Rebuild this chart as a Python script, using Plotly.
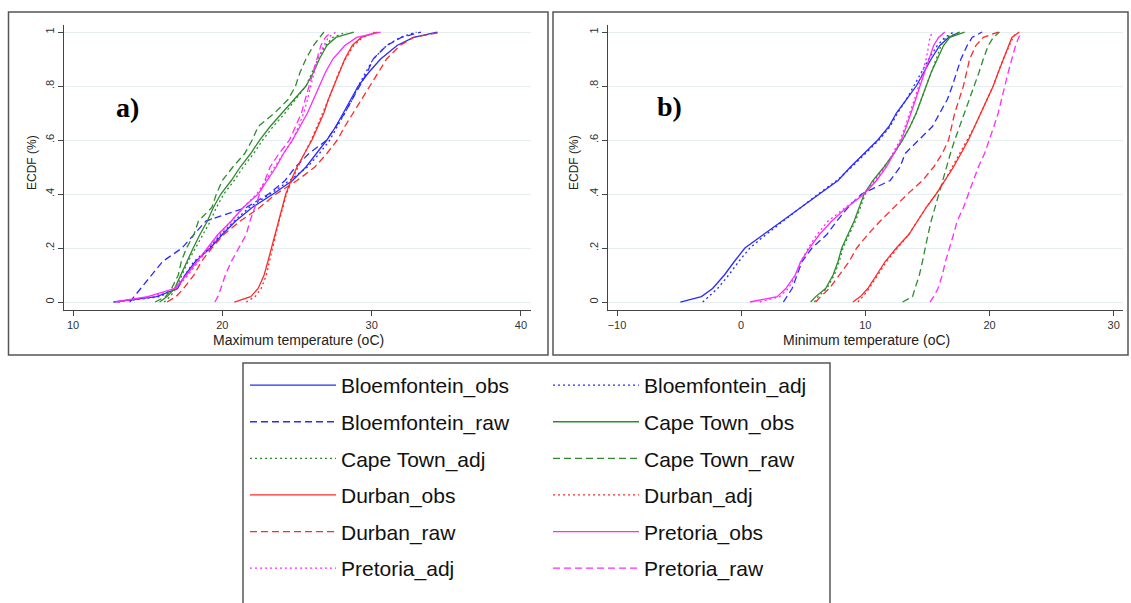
import plotly.graph_objects as go

# ---------------- data ----------------
ecdf_levels = [0, .02, .05, .1, .15, .2, .25, .3, .35, .4, .45, .5, .55, .6,
               .65, .7, .75, .8, .85, .9, .95, .98, 1.0]

series_names = ["Bloemfontein_obs", "Bloemfontein_adj", "Bloemfontein_raw",
                "Cape Town_obs", "Cape Town_adj", "Cape Town_raw",
                "Durban_obs", "Durban_adj", "Durban_raw",
                "Pretoria_obs", "Pretoria_adj", "Pretoria_raw"]

# a) maximum temperature quantiles (oC) at the ECDF levels
tmax_bloem_obs = [12.7, 15.6, 17.0, 17.5, 18.2, 19.2, 20.0, 20.9, 22.0, 23.4, 24.7, 25.6, 26.3, 27.0, 27.6, 28.1, 28.6, 29.1, 29.8, 30.6, 31.7, 32.8, 34.4]
tmax_bloem_adj = [13.0, 15.8, 17.0, 17.5, 18.1, 19.1, 19.9, 20.8, 21.8, 23.2, 24.5, 25.7, 26.5, 27.2, 27.7, 28.2, 28.7, 29.1, 29.6, 30.1, 31.0, 31.9, 33.0]
tmax_bloem_raw = [13.8, 14.1, 14.5, 15.3, 16.0, 17.3, 18.1, 18.9, 21.6, 23.1, 24.2, 24.9, 25.8, 27.0, 27.6, 28.2, 28.7, 29.2, 29.7, 30.1, 31.0, 32.0, 33.3]
tmax_ct_obs = [15.8, 16.3, 16.8, 17.2, 17.6, 18.05, 18.5, 19.0, 19.4, 19.9, 20.6, 21.2, 21.9, 22.5, 23.2, 24.0, 24.8, 25.6, 26.1, 26.5, 27.0, 27.6, 28.8]
tmax_ct_adj = [16.1, 16.5, 16.9, 17.3, 17.7, 18.2, 18.7, 19.2, 19.6, 20.1, 20.8, 21.4, 22.1, 22.7, 23.4, 24.2, 24.9, 25.6, 26.0, 26.4, 26.9, 27.4, 28.3]
tmax_ct_raw = [15.5, 16.2, 16.6, 17.05, 17.25, 17.6, 18.1, 18.4, 19.3, 19.6, 20.0, 20.7, 21.5, 22.0, 22.4, 23.5, 24.4, 24.9, 25.2, 25.6, 26.1, 26.5, 26.8]
tmax_durban_obs = [20.8, 21.9, 22.4, 22.8, 23.05, 23.3, 23.5, 23.75, 24.0, 24.25, 24.6, 25.0, 25.5, 26.0, 26.4, 26.8, 27.1, 27.45, 27.8, 28.2, 28.7, 29.3, 30.4]
tmax_durban_adj = [21.6, 22.2, 22.6, 22.95, 23.15, 23.35, 23.55, 23.8, 24.05, 24.3, 24.65, 25.05, 25.5, 25.95, 26.35, 26.75, 27.1, 27.45, 27.8, 28.25, 28.8, 29.4, 30.2]
tmax_durban_raw = [16.3, 16.9, 17.4, 18.1, 18.6, 19.3, 20.1, 21.2, 22.5, 23.6, 25.0, 26.2, 27.0, 27.7, 28.2, 28.75, 29.3, 29.85, 30.4, 31.0, 31.9, 32.8, 34.7]
tmax_pretoria_obs = [12.8, 15.0, 16.8, 17.6, 18.3, 19.0, 19.7, 20.6, 21.4, 22.4, 23.0, 23.6, 24.1, 24.7, 25.2, 25.7, 26.1, 26.5, 26.9, 27.4, 28.2, 29.0, 30.6]
tmax_pretoria_adj = [13.0, 15.3, 16.9, 17.7, 18.4, 19.1, 19.8, 20.6, 21.4, 22.3, 22.9, 23.5, 24.1, 24.7, 25.1, 25.45, 25.7, 25.9, 26.15, 26.4, 26.8, 27.1, 27.6]
tmax_pretoria_raw = [19.5, 19.7, 19.9, 20.2, 20.6, 21.1, 21.6, 21.85, 22.15, 22.5, 22.85, 23.2, 23.8, 24.5, 24.9, 25.3, 25.55, 25.8, 26.05, 26.3, 26.6, 26.9, 27.3]

# b) minimum temperature quantiles (oC) at the ECDF levels
tmin_bloem_obs = [-4.9, -3.2, -2.3, -1.35, -0.55, 0.3, 1.8, 3.3, 4.9, 6.3, 7.8, 8.8, 9.9, 11.0, 11.9, 12.5, 13.3, 14.1, 14.7, 15.3, 16.0, 16.7, 17.6]
tmin_bloem_adj = [-3.1, -2.6, -1.9, -1.0, -0.2, 0.7, 2.0, 3.4, 4.8, 6.2, 7.7, 8.9, 10.0, 11.1, 12.0, 12.6, 13.3, 13.9, 14.5, 15.1, 15.8, 16.4, 17.1]
tmin_bloem_raw = [3.4, 3.7, 4.1, 4.5, 4.9, 5.7, 6.9, 7.7, 8.6, 9.7, 12.0, 12.8, 13.2, 14.3, 15.4, 16.0, 16.6, 17.0, 17.35, 17.7, 18.2, 18.6, 19.4]
tmin_ct_obs = [5.6, 6.0, 6.8, 7.4, 7.8, 8.1, 8.6, 9.1, 9.5, 9.9, 10.6, 11.5, 12.3, 13.0, 13.6, 14.1, 14.5, 14.9, 15.3, 15.8, 16.3, 16.8, 18.0]
tmin_ct_adj = [5.9, 6.2, 6.9, 7.5, 7.9, 8.2, 8.7, 9.2, 9.6, 10.0, 10.7, 11.5, 12.3, 13.0, 13.6, 14.1, 14.5, 14.9, 15.3, 15.7, 16.1, 16.5, 17.6]
tmin_ct_raw = [13.0, 13.8, 14.0, 14.35, 14.6, 14.8, 15.05, 15.3, 15.6, 15.9, 16.2, 16.5, 16.85, 17.2, 17.6, 18.0, 18.4, 18.8, 19.15, 19.5, 19.9, 20.3, 20.8]
tmin_durban_obs = [9.0, 9.6, 10.2, 10.9, 11.6, 12.5, 13.5, 14.2, 14.9, 15.7, 16.4, 17.1, 17.7, 18.3, 18.8, 19.3, 19.8, 20.3, 20.7, 21.1, 21.5, 21.8, 22.4]
tmin_durban_adj = [9.4, 9.8, 10.3, 11.0, 11.7, 12.6, 13.5, 14.2, 14.9, 15.7, 16.4, 17.0, 17.6, 18.2, 18.8, 19.3, 19.8, 20.3, 20.7, 21.1, 21.6, 21.9, 22.2]
tmin_durban_raw = [6.0, 6.4, 7.1, 7.9, 8.7, 9.3, 10.2, 11.2, 12.3, 13.4, 14.6, 15.5, 16.2, 16.7, 16.95, 17.2, 17.55, 17.9, 18.15, 18.4, 18.9, 19.5, 20.7]
tmin_pretoria_obs = [0.7, 2.9, 3.6, 4.35, 4.8, 5.5, 6.3, 7.3, 8.5, 9.9, 10.9, 11.7, 12.3, 12.9, 13.3, 13.7, 14.05, 14.4, 14.75, 15.1, 15.5, 15.9, 16.4]
tmin_pretoria_adj = [1.5, 3.1, 3.8, 4.4, 4.8, 5.4, 6.1, 7.0, 8.4, 9.8, 10.8, 11.6, 12.2, 12.8, 13.2, 13.6, 13.95, 14.3, 14.6, 14.9, 15.1, 15.2, 15.4]
tmin_pretoria_raw = [15.2, 15.5, 15.85, 16.2, 16.45, 16.8, 17.1, 17.4, 17.9, 18.3, 18.7, 19.1, 19.6, 20.0, 20.35, 20.7, 20.95, 21.2, 21.5, 21.8, 22.1, 22.35, 22.6]

tmax_series = [tmax_bloem_obs, tmax_bloem_adj, tmax_bloem_raw,
               tmax_ct_obs, tmax_ct_adj, tmax_ct_raw,
               tmax_durban_obs, tmax_durban_adj, tmax_durban_raw,
               tmax_pretoria_obs, tmax_pretoria_adj, tmax_pretoria_raw]
tmin_series = [tmin_bloem_obs, tmin_bloem_adj, tmin_bloem_raw,
               tmin_ct_obs, tmin_ct_adj, tmin_ct_raw,
               tmin_durban_obs, tmin_durban_adj, tmin_durban_raw,
               tmin_pretoria_obs, tmin_pretoria_adj, tmin_pretoria_raw]

x_ticks_a = [10, 20, 30, 40]
x_ticks_b = [-10, 0, 10, 20, 30]
y_ticks = [0, 0.2, 0.4, 0.6, 0.8, 1]
y_ticktext = ["0", ".2", ".4", ".6", ".8", "1"]

# ---------------- styles ----------------
city_colors = {"Bloemfontein": "#2a2aff", "Cape Town": "#2e8b2e",
               "Durban": "#ff2a2a", "Pretoria": "#ff2aff"}
kind_dash = {"obs": "solid", "adj": "2px,3px", "raw": "7px,4px"}

W, H = 1131, 603
def fx(p):
    return p / W
def fy(p):
    return 1 - p / H

FONT = "Liberation Sans, Arial, sans-serif"

fig = go.Figure()
for i, name in enumerate(series_names):
    city, kind = name.rsplit("_", 1)
    line = dict(color=city_colors[city], width=1.3, dash=kind_dash[kind])
    leg = "legend" if i % 2 == 0 else "legend2"
    fig.add_trace(go.Scatter(x=tmax_series[i], y=ecdf_levels, mode="lines",
                             name=name, line=line, legendgroup=name,
                             legend=leg, xaxis="x", yaxis="y"))
    fig.add_trace(go.Scatter(x=tmin_series[i], y=ecdf_levels, mode="lines",
                             name=name, line=line, legendgroup=name,
                             legend=leg, showlegend=False,
                             xaxis="x2", yaxis="y2"))

axis_common = dict(showline=True, linecolor="#444", linewidth=1.2,
                   ticks="outside", ticklen=5, tickcolor="#444",
                   zeroline=False, tickfont=dict(size=11, color="#333", family=FONT))

ydom = [fy(310), fy(25)]
legend_common = dict(y=fy(365), xanchor="left", yanchor="top",
                     orientation="v", traceorder="grouped", tracegroupgap=6.3,
                     itemwidth=86, font=dict(size=21, family=FONT, color="#111"),
                     bgcolor="rgba(0,0,0,0)", borderwidth=0)
fig.update_layout(
    width=W, height=H, margin=dict(l=0, r=0, t=0, b=0),
    paper_bgcolor="white", plot_bgcolor="white",
    font=dict(family=FONT, color="#222"),
    xaxis=dict(domain=[fx(64), fx(531)], range=[9.397, 40.67],
               tickvals=x_ticks_a, showgrid=False, anchor="y", **axis_common),
    yaxis=dict(domain=ydom, range=[-0.0296, 1.026], tickvals=y_ticks,
               ticktext=y_ticktext, tickangle=-90, showgrid=True,
               gridcolor="#e6eff0", gridwidth=1, anchor="x", **axis_common),
    xaxis2=dict(domain=[fx(608), fx(1123)], range=[-10.725, 30.75],
                tickvals=x_ticks_b, showgrid=False, anchor="y2", **axis_common),
    yaxis2=dict(domain=ydom, range=[-0.0296, 1.026], tickvals=y_ticks,
                ticktext=y_ticktext, tickangle=-90, showgrid=True,
                gridcolor="#e6eff0", gridwidth=1, anchor="x2", **axis_common),
    legend=dict(x=fx(245), **legend_common),
    legend2=dict(x=fx(548), **legend_common),
)

# panel frames and legend box
frame = dict(type="rect", xref="paper", yref="paper",
             line=dict(color="#555", width=1.5), fillcolor="rgba(0,0,0,0)", layer="below")
fig.add_shape(x0=fx(8.5), x1=fx(548), y0=fy(355), y1=fy(12), **frame)
fig.add_shape(x0=fx(553), x1=fx(1128), y0=fy(355), y1=fy(12), **frame)
fig.add_shape(x0=fx(243), x1=fx(830), y0=fy(620), y1=fy(363), **frame)

# axis titles and panel labels
ann = []
ann.append(dict(text="Maximum temperature (oC)", x=fx(298), y=fy(340)))
ann.append(dict(text="Minimum temperature (oC)", x=fx(866), y=fy(340)))
for a in ann:
    a.update(xref="paper", yref="paper", showarrow=False, xanchor="center",
             yanchor="middle", font=dict(size=14, family=FONT, color="#222"))
for xp in (32, 574):
    ann.append(dict(text="ECDF (%)", x=fx(xp), y=fy(163), xref="paper", yref="paper",
                    showarrow=False, textangle=-90, xanchor="center", yanchor="middle",
                    font=dict(size=12, family=FONT, color="#222")))
ann.append(dict(text="<b>a)</b>", x=fx(127), y=fy(108), xref="paper", yref="paper",
                showarrow=False, xanchor="center", yanchor="middle",
                font=dict(size=28, family="Liberation Serif, serif", color="#000")))
ann.append(dict(text="<b>b)</b>", x=fx(669), y=fy(107), xref="paper", yref="paper",
                showarrow=False, xanchor="center", yanchor="middle",
                font=dict(size=28, family="Liberation Serif, serif", color="#000")))
fig.update_layout(annotations=ann)

fig.write_html("out.html", config={"displayModeBar": False},
               post_script="document.body.style.margin='0';document.body.style.overflow='hidden';")
